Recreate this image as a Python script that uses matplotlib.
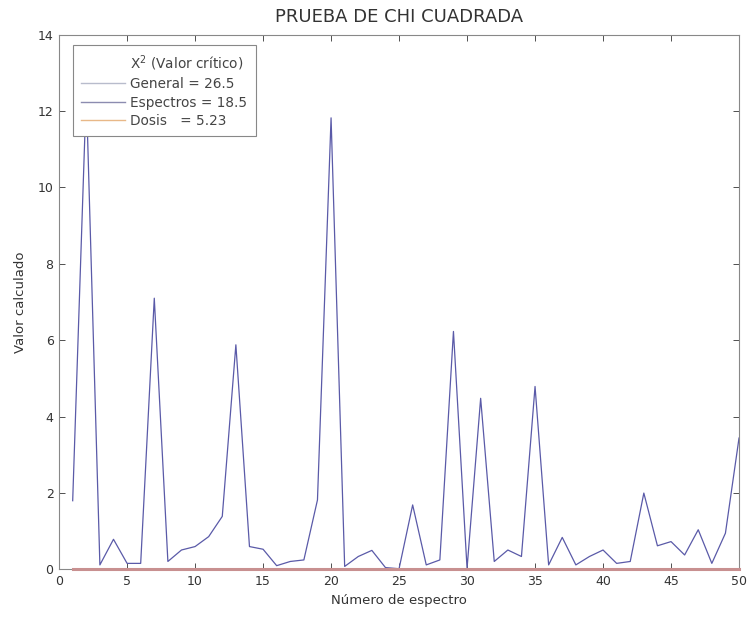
import matplotlib.pyplot as plt
import numpy as np
from matplotlib.lines import Line2D

plt.rcParams['font.family'] = ['DejaVu Sans']

# valor calculado de chi cuadrada por espectro
espectro = np.arange(1, 51)
valor = [1.8, 12.5, 0.12, 0.79, 0.16, 0.16, 7.1, 0.21, 0.51, 0.6,
         0.86, 1.39, 5.88, 0.6, 0.53, 0.1, 0.21, 0.25, 1.82, 11.82,
         0.08, 0.34, 0.5, 0.05, 0.02, 1.69, 0.12, 0.25, 6.23, 0.03,
         4.48, 0.21, 0.51, 0.34, 4.79, 0.12, 0.84, 0.12, 0.34, 0.51,
         0.16, 0.21, 2.0, 0.62, 0.73, 0.38, 1.04, 0.16, 0.95, 3.44]
base = np.zeros(len(espectro))

etiquetas = ['X$^2$ (Valor crítico)', 'General = 26.5', 'Espectros = 18.5', 'Dosis   = 5.23']
colores = ['white', '#b8bccc', '#8c8cb0', '#e8b888']

fig = plt.figure(figsize=(7.48, 6.17), dpi=100)
ax = fig.add_axes([0.079, 0.077, 0.909, 0.867])

ax.plot(espectro, valor, color='#5a5aa8', lw=0.9)
ax.plot(espectro, base, color='#c89090', lw=2.2, clip_on=False, zorder=3)

ax.set_xlim(0, 50)
ax.set_ylim(0, 14)
ax.set_xticks(np.arange(0, 51, 5))
ax.set_yticks(np.arange(0, 15, 2))
ax.tick_params(direction='in', top=True, right=True, length=4, labelsize=9,
               colors='#333333', width=0.6, pad=4)
for s in ax.spines.values():
    s.set_color('#888888')
    s.set_linewidth(0.8)

ax.set_title('PRUEBA DE CHI CUADRADA', fontsize=13, color='#333333', pad=9)
ax.set_xlabel('Número de espectro', fontsize=9.5, color='#333333', labelpad=4)
ax.set_ylabel('Valor calculado', fontsize=9.5, color='#333333', labelpad=8)

handles = [Line2D([], [], color=c, lw=1) for c in colores]
leg = ax.legend(handles, etiquetas, loc='upper left', bbox_to_anchor=(0.0206, 0.9806),
                borderaxespad=0, fontsize=9.8, frameon=True, fancybox=False,
                framealpha=1, edgecolor='#888888', handlelength=3.2,
                handletextpad=0.4, labelspacing=0.33, borderpad=0.6)
leg.get_frame().set_linewidth(0.8)
for t in leg.get_texts():
    t.set_color('#444444')

fig.savefig('out.png', dpi=100)
